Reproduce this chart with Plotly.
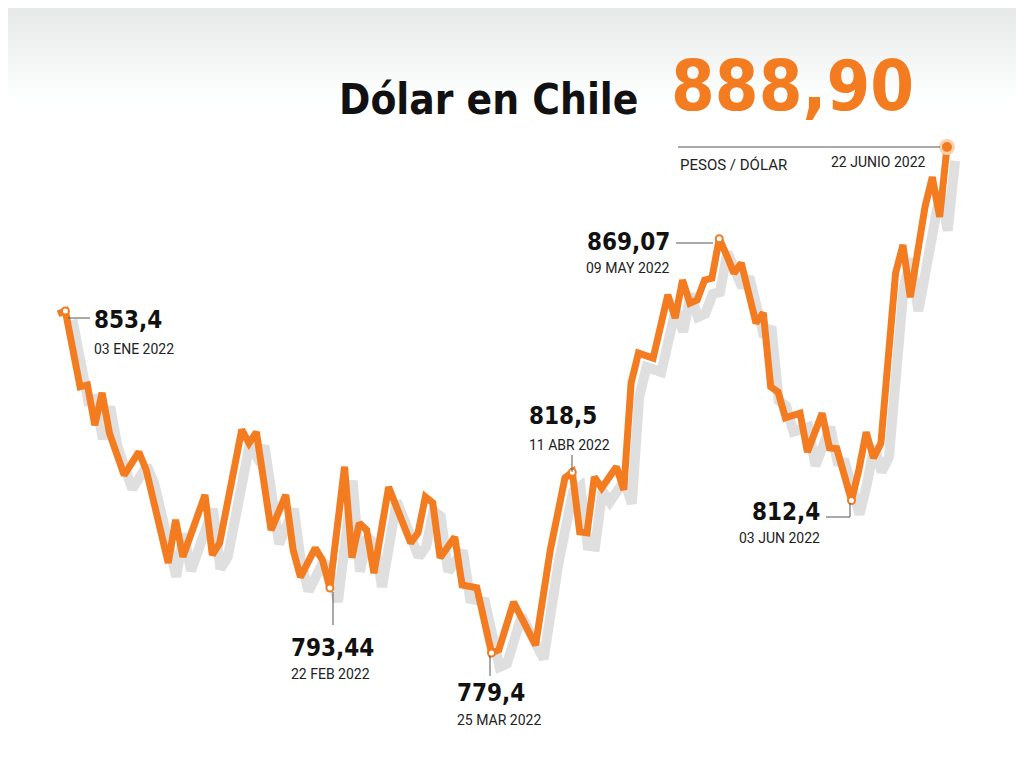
import plotly.graph_objects as go

# trading-day index (0 = 03 ene 2022) and CLP per USD
days = [0, 1, 3, 4, 5, 6, 7, 9, 11, 12, 15, 16, 17, 18, 20, 21, 22, 25, 26, 27,
        29, 31, 32, 33, 35, 36, 37, 39, 40, 41, 42, 43, 45, 48, 49, 50, 51, 52, 54, 55,
        57, 59, 60, 62, 65, 67, 69, 70, 71, 72, 73, 74, 76, 77, 78, 79, 81, 83, 84, 85,
        86, 87, 88, 89, 90, 91, 92, 93, 94, 95, 96, 97, 98, 99, 101, 102, 104, 105, 106, 108,
        109, 110, 111, 112, 114, 115, 116, 118, 119, 120, 121]
dolar = [852.8, 853.4, 837.0, 837.4, 828.7, 835.7, 827.0, 817.9, 822.9, 819.0,
         798.9, 808.2, 800.2, 804.5, 813.6, 800.6, 803.2, 827.7, 824.8, 827.2,
         806.0, 813.6, 801.7, 795.8, 802.1, 799.5, 793.44, 819.7, 800.0, 807.5,
         806.0, 796.7, 815.3, 803.2, 805.4, 813.2, 811.9, 800.0, 804.5, 794.1,
         793.5, 779.4, 780.1, 790.4, 781.1, 801.7, 817.3, 818.5, 805.6, 805.4,
         817.5, 815.1, 819.7, 814.7, 837.8, 844.3, 843.2, 856.9, 851.9, 860.1,
         855.1, 855.8, 860.1, 860.5, 869.07, 865.5, 861.6, 863.8, 856.9, 850.8,
         853.0, 837.0, 835.9, 830.3, 831.3, 822.9, 831.3, 823.8, 823.6, 812.4,
         819.0, 827.2, 821.6, 824.8, 861.6, 867.7, 856.4, 875.9, 882.4, 873.8, 888.90]

hi_days = [1, 37, 59, 70, 90, 108]
hi_vals = [853.4, 793.44, 779.4, 818.5, 869.07, 812.4]
hi_text = ["853,4", "793,44", "779,4", "818,5", "869,07", "812,4"]
hi_date = ["03 ENE 2022", "22 FEB 2022", "25 MAR 2022", "11 ABR 2022", "09 MAY 2022", "03 JUN 2022"]

ORANGE = "#F47C20"
W, H = 1008, 749  # page body has an 8px margin
OFF = 8
COND = "DejaVu Sans Condensed, DejaVu Sans, sans-serif"


def px(x):
    return (x - OFF) / W


def py(y):
    return 1 - (y - OFF) / H


fig = go.Figure()

# soft shadow
fig.add_trace(go.Scatter(x=[d + 1.1 for d in days], y=[v - 3.0 for v in dolar], mode="lines",
                         line=dict(color="rgba(150,150,150,0.3)", width=10), hoverinfo="skip"))
fig.add_trace(go.Scatter(x=days, y=dolar, mode="lines",
                         line=dict(color=ORANGE, width=7), hoverinfo="skip"))
fig.add_trace(go.Scatter(x=hi_days, y=hi_vals, mode="markers",
                         marker=dict(size=7, color="white", line=dict(color=ORANGE, width=2)),
                         hoverinfo="skip"))
fig.add_trace(go.Scatter(x=[days[-1]], y=[dolar[-1]], mode="markers",
                         marker=dict(size=13, color=ORANGE, line=dict(color="#FBD1B0", width=3)),
                         hoverinfo="skip"))

shapes = []
# light gray gradient at top
for i in range(12):
    g = 232 + i * 2
    shapes.append(dict(type="rect", xref="paper", yref="paper", x0=0, x1=1,
                       y0=py(8 + 8 * (i + 1)), y1=min(1, py(8 + 8 * i)), line_width=0,
                       fillcolor=f"rgb({g},{min(255, g + 2)},{min(255, g + 2)})", layer="below"))

leaders = [
    [(68, 318), (90, 318)],
    [(333, 592), (333, 625)],
    [(490, 656), (490, 676)],
    [(572, 472), (572, 455)],
    [(713, 243), (676, 243)],
    [(850, 503), (850, 517), (826, 517)],
    [(678, 147), (940, 147)],
]
for pts in leaders:
    path = "M " + " L ".join(f"{px(x)},{py(y)}" for x, y in pts)
    shapes.append(dict(type="path", xref="paper", yref="paper", path=path,
                       line=dict(color="#555", width=1)))

ann = []


def label(x, y, text, size, anchor, color="#111", family=COND, bold=False):
    t = f"<b>{text}</b>" if bold else text
    ann.append(dict(x=px(x), y=py(y), xref="paper", yref="paper", text=t, showarrow=False,
                    xanchor=anchor, yanchor="middle",
                    font=dict(size=size, color=color, family=family)))


pos = [
    (92, 320, 92, 349, "left"),
    (332, 648, 330, 674, "center"),
    (455, 693, 455, 720, "left"),
    (527, 416, 527, 445, "left"),
    (672, 242, 672, 268, "right"),
    (822, 512, 822, 538, "right"),
]
for (nx, ny, dx, dy, a), t, d in zip(pos, hi_text, hi_date):
    label(nx, ny, t, 24, a, bold=True)
    label(dx, dy, d, 14, a, color="#222", family="Roboto, sans-serif")

label(640, 99, "Dólar en Chile", 42, "right", bold=True)
label(916, 86, "888,90", 70, "right", color=ORANGE, bold=True)
label(678, 165, "PESOS / DÓLAR", 15, "left", color="#222", family="Roboto, sans-serif")
label(928, 162, "22 JUNIO 2022", 14, "right", color="#222", family="Roboto, sans-serif")

fig.update_layout(
    width=W, height=H, margin=dict(l=0, r=0, t=0, b=0),
    paper_bgcolor="white", plot_bgcolor="rgba(0,0,0,0)", showlegend=False,
    xaxis=dict(range=[-6.81, 130.39], visible=False, fixedrange=True),
    yaxis=dict(range=[756.89, 918.98], visible=False, fixedrange=True),
    shapes=shapes, annotations=ann,
)

fig.write_html("out.html", config={"displayModeBar": False})
